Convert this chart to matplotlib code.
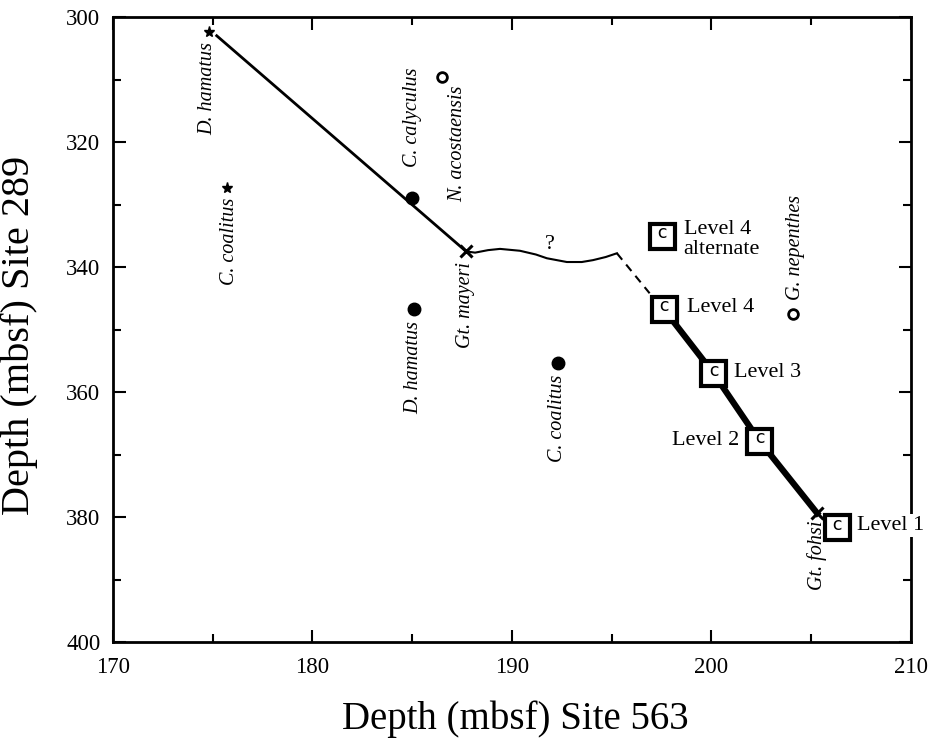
import matplotlib
matplotlib.use("Agg")
import matplotlib.pyplot as plt
from matplotlib.ticker import MultipleLocator

plt.rcParams['font.family'] = ['Liberation Serif', 'DejaVu Serif']

# Data ------------------------------------------------------------
# Upper correlation line (thin)
upper_x = [175.2, 187.7]
upper_y = [303.0, 337.5]
# Wavy uncertain segment
wave_x = [187.7, 188.15, 188.8, 189.4, 190.4, 191.2, 191.75, 192.75, 193.5, 194.06, 194.7, 195.26]
wave_y = [337.5, 337.7, 337.3, 337.1, 337.4, 338.0, 338.6, 339.2, 339.2, 338.9, 338.4, 337.8]
# Dashed segment
dash_x = [195.26, 196.9]
dash_y = [337.8, 344.2]
# Lower correlation line (thick)
lower_x = [197.6, 200.1, 202.4, 205.3]
lower_y = [346.7, 357.0, 367.8, 379.4]

# Level squares
level_names = ["Level 4\nalternate", "Level 4", "Level 3", "Level 2", "Level 1"]
level_x = [197.5, 197.6, 200.1, 202.4, 206.3]
level_y = [335.0, 346.7, 357.0, 367.8, 381.6]

# Stars (nannofossil datums)
star_names = ["D. hamatus", "C. coalitus"]
star_x = [174.8, 175.7]
star_y = [302.4, 327.4]

# Filled dots
dot_names = ["C. calyculus", "D. hamatus", "C. coalitus"]
dot_x = [185.0, 185.1, 192.3]
dot_y = [329.0, 346.7, 355.4]

# Open circles
circ_names = ["N. acostaensis", "G. nepenthes"]
circ_x = [186.5, 204.1]
circ_y = [309.6, 347.5]

# Crosses
cross_names = ["Gt. mayeri", "Gt. fohsi"]
cross_x = [187.7, 205.3]
cross_y = [337.5, 379.4]

# Figure ----------------------------------------------------------
fig = plt.figure(figsize=(9.29, 7.39), dpi=100)
ax = fig.add_axes([0.1216, 0.1312, 0.859, 0.8458])

ax.plot(upper_x, upper_y, color='black', lw=2.0, zorder=2)
ax.plot(wave_x, wave_y, color='black', lw=1.5, zorder=2)
ax.plot(dash_x, dash_y, color='black', lw=1.5, ls=(0, (4, 3)), zorder=2)
ax.plot(lower_x, lower_y, color='black', lw=4.5, zorder=2)

ax.plot(level_x, level_y, ls='none', marker='s', ms=18, mfc='white',
        mec='black', mew=3, zorder=4)
for x, y in zip(level_x, level_y):
    ax.text(x, y - 0.4, "c", ha='center', va='center', fontsize=13,
            family='DejaVu Sans Mono', zorder=5)

ax.plot(star_x, star_y, ls='none', marker='*', ms=8, color='black', zorder=3)
ax.plot(dot_x, dot_y, ls='none', marker='o', ms=9, color='black', zorder=3)
ax.plot(circ_x, circ_y, ls='none', marker='o', ms=7, mfc='white', mec='black',
        mew=2, zorder=3)
ax.plot(cross_x, cross_y, ls='none', marker='x', ms=8, mew=2.2, color='black', zorder=3)

sp = dict(rotation=90, style='italic', fontsize=14.5)
# species labels (rotated)
ax.text(174.75, 304.0, star_names[0], ha='center', va='top', **sp)
ax.text(175.85, 328.9, star_names[1], ha='center', va='top', **sp)
ax.text(185.0, 324.0, dot_names[0], ha='center', va='bottom', **sp)
ax.text(185.1, 348.6, dot_names[1], ha='center', va='top', **sp)
ax.text(192.3, 357.2, dot_names[2], ha='center', va='top', **sp)
ax.text(187.3, 311.0, circ_names[0], ha='center', va='top', **sp)
ax.text(204.2, 345.3, circ_names[1], ha='center', va='bottom', **sp)
ax.text(187.65, 339.2, cross_names[0], ha='center', va='top', **sp)
ax.text(205.3, 380.6, cross_names[1], ha='center', va='top', **sp)

ax.text(191.9, 336.4, "?", ha='center', va='center', fontsize=16)

lv = dict(fontsize=16, va='center', zorder=6)
ax.text(198.6, 335.6, level_names[0], ha='left', linespacing=1.1, **lv)
ax.text(198.75, 346.5, level_names[1], ha='left', **lv)
ax.text(201.15, 356.8, level_names[2], ha='left', **lv)
ax.text(201.4, 367.8, level_names[3], ha='right', **lv)
ax.text(207.3, 381.4, level_names[4], ha='left',
        bbox=dict(facecolor='white', edgecolor='none', pad=1.5), **lv)

ax.set_xlim(170, 210)
ax.set_ylim(400, 300)
ax.xaxis.set_major_locator(MultipleLocator(10))
ax.xaxis.set_minor_locator(MultipleLocator(5))
ax.yaxis.set_major_locator(MultipleLocator(20))
ax.yaxis.set_minor_locator(MultipleLocator(10))
ax.tick_params(which='both', direction='in', top=True, right=True,
               labelsize=16.5, width=1.5)
ax.tick_params(which='major', length=9)
ax.tick_params(axis='y', which='major', pad=9)
ax.tick_params(axis='x', which='major', pad=11)
ax.tick_params(which='minor', length=6)
for s in ax.spines.values():
    s.set_linewidth(2)

ax.set_xlabel("Depth (mbsf) Site 563", fontsize=28)
ax.set_ylabel("Depth (mbsf) Site 289", fontsize=29)
ax.xaxis.set_label_coords(0.504, -0.094)
ax.xaxis.label.set_va('top')
ax.yaxis.set_label_coords(-0.094, 0.49)

fig.savefig("out.png", dpi=100)
